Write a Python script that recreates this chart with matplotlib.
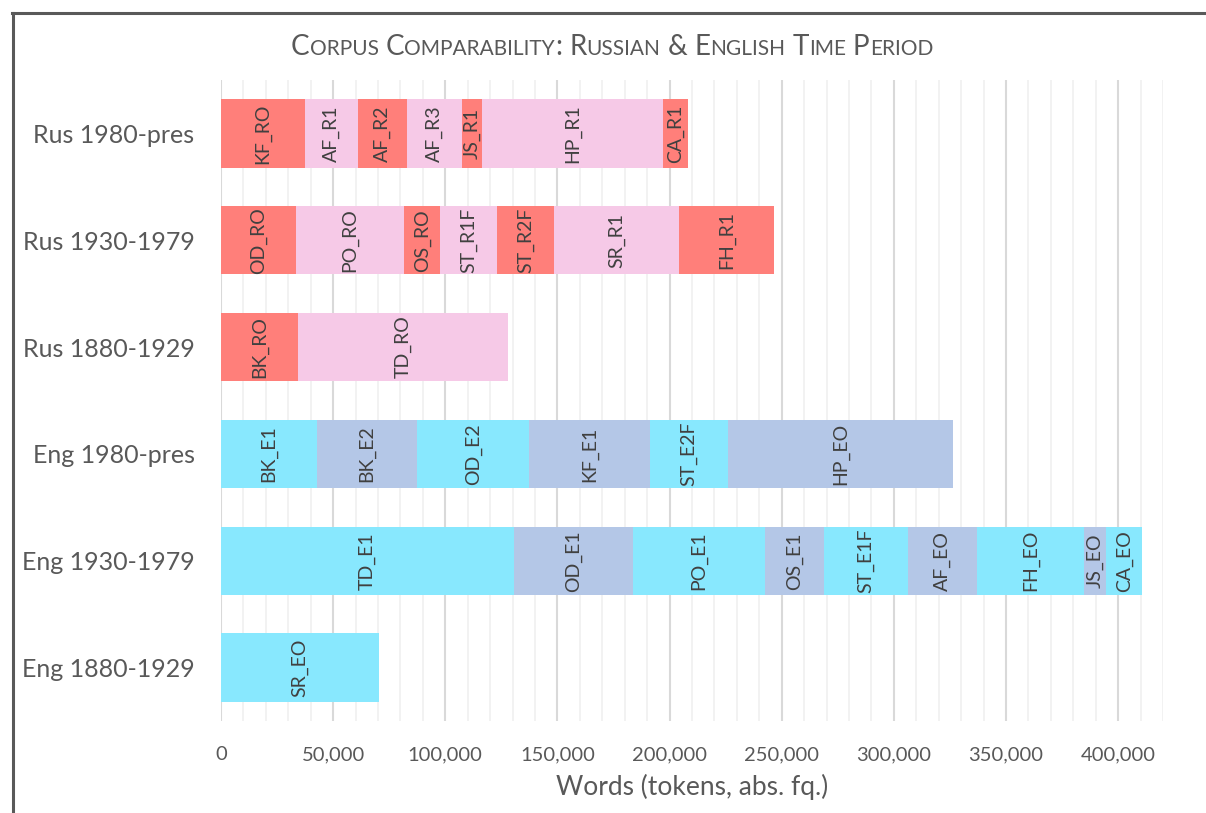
import matplotlib
matplotlib.use("Agg")
from matplotlib import pyplot as plt
from matplotlib.lines import Line2D
from matplotlib.ticker import MultipleLocator, FuncFormatter

FONT = ["Lato", "DejaVu Sans"]
plt.rcParams["font.family"] = FONT

# rows, top to bottom
rows = ["Rus 1980-pres", "Rus 1930-1979", "Rus 1880-1929",
        "Eng 1980-pres", "Eng 1930-1979", "Eng 1880-1929"]

rus_1980_labels = ["KF_RO", "AF_R1", "AF_R2", "AF_R3", "JS_R1", "HP_R1", "CA_R1"]
rus_1980_values = [37500, 23600, 21800, 24500, 8900, 80700, 11100]

rus_1930_labels = ["OD_RO", "PO_RO", "OS_RO", "ST_R1F", "ST_R2F", "SR_R1", "FH_R1"]
rus_1930_values = [33400, 48200, 16100, 25400, 25300, 55700, 42400]

rus_1880_labels = ["BK_RO", "TD_RO"]
rus_1880_values = [34300, 93600]

eng_1980_labels = ["BK_E1", "BK_E2", "OD_E2", "KF_E1", "ST_E2F", "HP_EO"]
eng_1980_values = [42800, 44600, 50100, 53800, 34800, 100300]

eng_1930_labels = ["TD_E1", "OD_E1", "PO_E1", "OS_E1", "ST_E1F", "AF_EO", "FH_EO", "JS_EO", "CA_EO"]
eng_1930_values = [130600, 53100, 58900, 26300, 37500, 30800, 47700, 9800, 16100]

eng_1880_labels = ["SR_EO"]
eng_1880_values = [70500]

row_labels = [rus_1980_labels, rus_1930_labels, rus_1880_labels,
              eng_1980_labels, eng_1930_labels, eng_1880_labels]
row_values = [rus_1980_values, rus_1930_values, rus_1880_values,
              eng_1980_values, eng_1930_values, eng_1880_values]

rus_colors = ["#FF7F7A", "#F6C9E7"]
eng_colors = ["#88E8FE", "#B4C7E7"]

title = "Corpus Comparability: Russian & English Time Period"
xlabel = "Words (tokens, abs. fq.)"

TXT = "#595959"

fig = plt.figure(figsize=(12.06, 8.13), dpi=100)
ax = fig.add_axes([221 / 1206, 1 - 721 / 813, (1163 - 221) / 1206, (721 - 80) / 813])

for i, (labs, vals) in enumerate(zip(row_labels, row_values)):
    cols = rus_colors if rows[i].startswith("Rus") else eng_colors
    left = 0
    for j, (lab, v) in enumerate(zip(labs, vals)):
        ax.barh(i, v, left=left, height=0.64, color=cols[j % 2], zorder=3)
        ax.text(left + v / 2, i, lab, rotation=90, ha="center", va="center",
                fontsize=14, color="#404040", zorder=4)
        left += v

ax.set_ylim(len(rows) - 0.5, -0.5)
ax.set_xlim(0, 420000)
ax.set_yticks(range(len(rows)))
ax.set_yticklabels(rows, fontsize=18, color=TXT)

ax.xaxis.set_major_locator(MultipleLocator(50000))
ax.xaxis.set_minor_locator(MultipleLocator(10000))
ax.xaxis.set_major_formatter(FuncFormatter(lambda v, p: f"{int(v):,}"))
ax.tick_params(axis="x", which="both", length=0, pad=18, labelsize=14.5, labelcolor=TXT)
ax.tick_params(axis="y", length=0, pad=19)
ax.grid(axis="x", which="major", color="#D9D9D9", lw=1.5, zorder=0)
ax.grid(axis="x", which="minor", color="#F0F0F0", lw=1.2, zorder=0)
ax.set_axisbelow(True)
for s in ax.spines.values():
    s.set_visible(False)
ax.set_xlabel(xlabel, fontsize=19, color=TXT, labelpad=8)

# title in small caps, built from pieces
renderer = fig.canvas.get_renderer()
BIG, SMALL = 20, 15


def width(s, size):
    t = fig.text(0, 0, s, fontsize=size)
    w = t.get_window_extent(renderer).width
    t.remove()
    return w


space_w = width("x x", BIG) - width("xx", BIG)
pieces = []
for word in title.split(" "):
    runs = []
    for ch in word:
        small = ch.islower()
        if runs and runs[-1][1] == small:
            runs[-1][0] += ch.upper() if small else ch
        else:
            runs.append([ch.upper() if small else ch, small])
    pieces.append(runs)

total = 0
for k, runs in enumerate(pieces):
    for s, small in runs:
        total += width(s, SMALL if small else BIG)
    if k < len(pieces) - 1:
        total += space_w

x = 612 - total / 2
y_base = 813 - 55
for k, runs in enumerate(pieces):
    for s, small in runs:
        size = SMALL if small else BIG
        fig.text(x / 1206, y_base / 813, s, fontsize=size, color=TXT,
                 ha="left", va="baseline")
        x += width(s, size)
    x += space_w

# chart area border
fig.add_artist(Line2D([13 / 1206, 13 / 1206], [0, 1 - 13 / 813], color="#595959", lw=2.2))
fig.add_artist(Line2D([12 / 1206, 1], [1 - 13 / 813, 1 - 13 / 813], color="#595959", lw=2.2))

fig.savefig("out.png", dpi=100)
